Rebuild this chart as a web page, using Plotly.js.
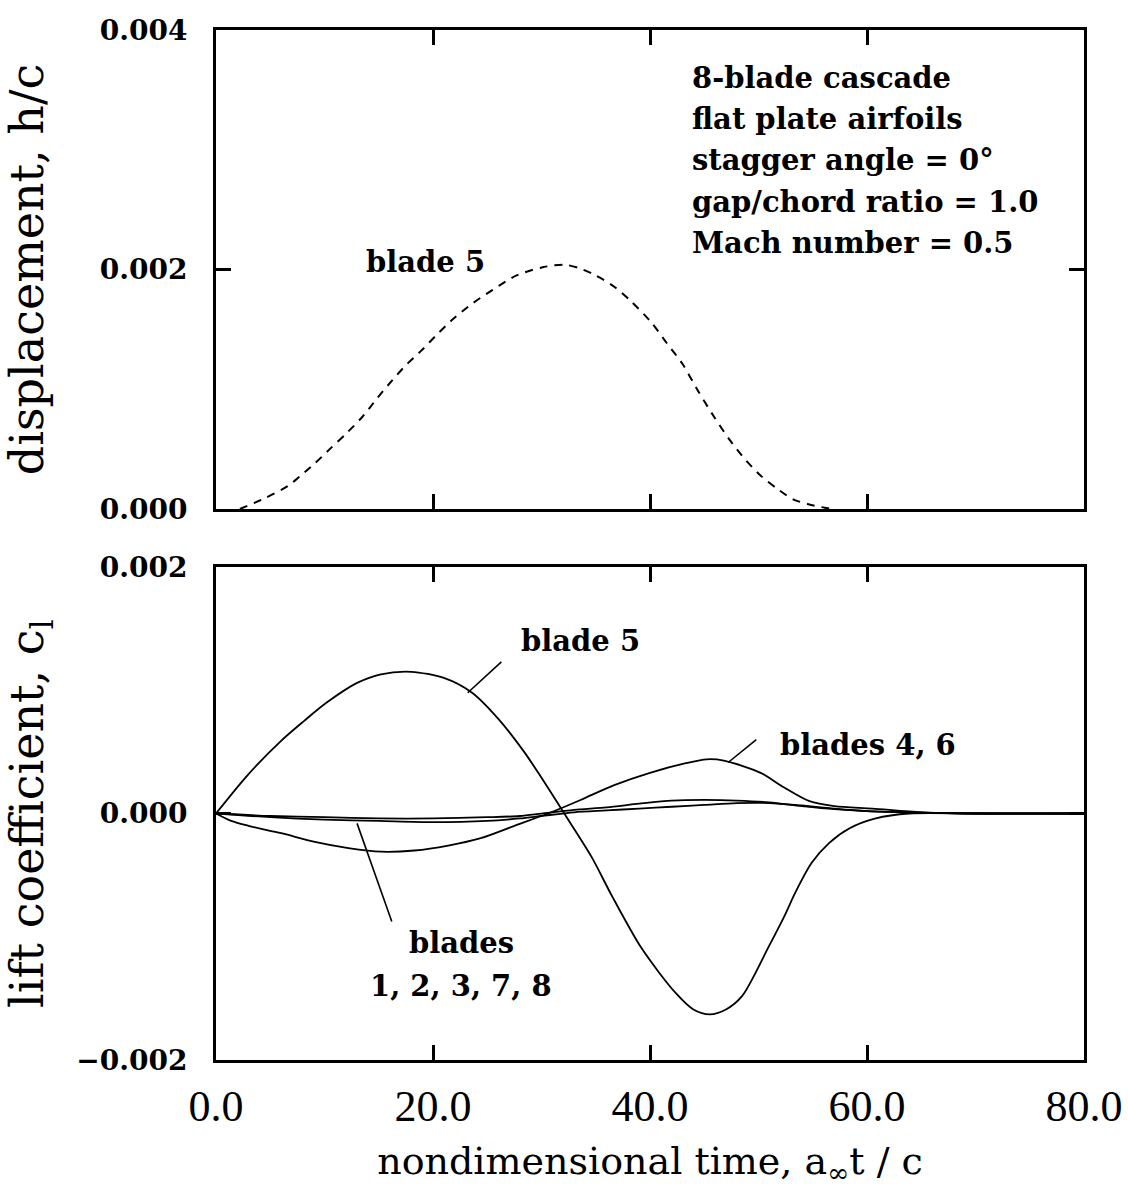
<!DOCTYPE html>
<html>
<head>
<meta charset="utf-8">
<script src="https://cdn.plot.ly/plotly-3.0.1.min.js"></script>
<style>html,body{margin:0;padding:0;background:#fff;}</style>
</head>
<body>
<div id="chart" style="width:1128px;height:1188px;"></div>
<script>
// ---- Top panel: displacement of blade 5 (h/c) ----
const dispTime   = [2.2, 4.4, 6.6, 7.7, 9.1, 10.6, 12.0, 13.5, 14.9, 16.2, 17.5, 18.9, 20.4, 21.9, 23.7, 25.5, 27.7, 30.2, 32.1, 33.5, 35.0, 36.8, 38.3, 40.1, 41.5, 43.0, 44.4, 45.9, 47.4, 48.8, 50.3, 51.7, 53.2, 54.6, 56.1, 57.0];
const dispBlade5 = [0, 0.000085, 0.00019, 0.00027, 0.00038, 0.00051, 0.00063, 0.00077, 0.00093, 0.00107, 0.00120, 0.00132, 0.00146, 0.00159, 0.00172, 0.00183, 0.00195, 0.00202, 0.00204, 0.00201, 0.00195, 0.00185, 0.00173, 0.00156, 0.00139, 0.00121, 0.00099, 0.00077, 0.00057, 0.00041, 0.00027, 0.00017, 0.00008, 0.00004, 0.00001, 0];

// ---- Bottom panel: lift coefficient c_l ----
const clTimeB5  = [0, 2.9, 6.0, 8.1, 10.2, 13.0, 15.2, 18.0, 21.0, 23.6, 26.0, 28.4, 30.0, 32.1, 34.6, 36.5, 39.2, 42.3, 44.0, 45.5, 47.0, 48.5, 51.0, 52.4, 53.4, 54.9, 56.5, 58.4, 60.8, 63.9, 70, 80];
const clBlade5  = [0, 0.00031, 0.00059, 0.00075, 0.00090, 0.00106, 0.00113, 0.00115, 0.00110, 0.00098, 0.00077, 0.00050, 0.00029, 0.0, -0.00035, -0.00067, -0.00109, -0.00145, -0.00159, -0.00163, -0.00159, -0.00148, -0.00107, -0.00083, -0.00064, -0.00040, -0.00024, -0.00012, -0.00004, 0, 0, 0];

const clTimeB46 = [0, 1.4, 3, 6, 9.1, 12.2, 15.2, 18.3, 21.4, 24.4, 27.5, 30.6, 33.6, 36.7, 40, 43.4, 45.2, 46.8, 50.2, 52.2, 54.7, 57, 60.5, 65, 70, 80];
const clBlades46 = [0, -0.00006, -0.00010, -0.00016, -0.00023, -0.00028, -0.00031, -0.00030, -0.00026, -0.00020, -0.00010, 0, 0.00011, 0.00023, 0.00033, 0.00041, 0.00044, 0.00043, 0.00033, 0.00022, 0.00010, 0.00006, 0.00004, 0.00001, 0, 0];

const clTimeOther = [0, 5, 10, 15, 20, 25, 28, 30, 33, 36, 39, 42, 45, 48, 51, 54, 57, 60, 64, 70, 80];
const clOtherUpper = [0, -0.00002, -0.00003, -0.00004, -0.00004, -0.00003, -0.00002, 0, 0.00003, 0.00005, 0.00008, 0.000105, 0.00011, 0.000105, 0.00009, 0.00006, 0.000035, 0.00002, 0.00001, 0, 0];
const clOtherLower = [0, -0.00003, -0.00005, -0.00006, -0.00007, -0.00006, -0.00004, -0.00002, 0.00001, 0.000025, 0.00004, 0.000055, 0.00007, 0.000085, 0.000085, 0.000065, 0.00004, 0.00002, 0.00001, 0, 0];

const xTickVals = [0, 20, 40, 60, 80];
const xTickText = ['0.0', '20.0', '40.0', '60.0', '80.0'];
const dispTickVals = [0, 0.002, 0.004];
const dispTickText = ['0.000', '0.002', '0.004'];
const clTickVals = [-0.002, 0, 0.002];
const clTickText = ['\u22120.002', '0.000', '0.002'];

const infoLines = ['8-blade cascade', 'flat plate airfoils', 'stagger angle = 0\u00b0', 'gap/chord ratio = 1.0', 'Mach number = 0.5'];

const serif = 'DejaVu Serif, serif';
const line = {color: '#000', width: 1.8, shape: 'spline', smoothing: 0.8};

const traces = [
  {x: dispTime, y: dispBlade5, xaxis: 'x', yaxis: 'y', mode: 'lines', name: 'blade 5 displacement',
   line: {color: '#000', width: 2, dash: '8px,7px', shape: 'spline', smoothing: 0.8}},
  {x: clTimeOther, y: clOtherLower, xaxis: 'x2', yaxis: 'y2', mode: 'lines', name: 'blades 1, 2, 3, 7, 8 (lower)', line: line},
  {x: clTimeOther, y: clOtherUpper, xaxis: 'x2', yaxis: 'y2', mode: 'lines', name: 'blades 1, 2, 3, 7, 8 (upper)', line: line},
  {x: clTimeB46, y: clBlades46, xaxis: 'x2', yaxis: 'y2', mode: 'lines', name: 'blades 4, 6', line: line},
  {x: clTimeB5, y: clBlade5, xaxis: 'x2', yaxis: 'y2', mode: 'lines', name: 'blade 5', line: line}
];

const axisCommon = {
  showline: true, linecolor: '#000', linewidth: 3, mirror: 'ticks',
  ticks: 'inside', ticklen: 15, tickwidth: 3, tickcolor: '#000',
  showgrid: false, zeroline: false, fixedrange: true
};

const annFont = {family: serif, size: 29, color: '#000', weight: 'bold'};
const annotations = [];
const infoY = [0.003599, 0.003257, 0.002914, 0.002564, 0.002221];
infoLines.forEach((t, i) => annotations.push({
  text: t, xref: 'x', yref: 'y', x: 43.7, y: infoY[i], xanchor: 'left', yanchor: 'middle',
  showarrow: false, font: annFont
}));
annotations.push({text: 'blade 5', xref: 'x', yref: 'y', x: 19.3, y: 0.00206, xanchor: 'center', yanchor: 'middle', showarrow: false, font: annFont});
annotations.push({text: 'blade 5', xref: 'x2', yref: 'y2', x: 33.6, y: 0.00140, xanchor: 'center', yanchor: 'middle', showarrow: false, font: annFont});
annotations.push({text: 'blades 4, 6', xref: 'x2', yref: 'y2', x: 60.1, y: 0.00056, xanchor: 'center', yanchor: 'middle', showarrow: false, font: annFont});
annotations.push({text: 'blades', xref: 'x2', yref: 'y2', x: 22.6, y: -0.00105, xanchor: 'center', yanchor: 'middle', showarrow: false, font: annFont});
annotations.push({text: '1, 2, 3, 7, 8', xref: 'x2', yref: 'y2', x: 22.6, y: -0.00140, xanchor: 'center', yanchor: 'middle', showarrow: false, font: annFont});

// leader lines from labels to curves
const leaderX0 = [23.2, 47.2, 13.0];
const leaderY0 = [0.00098, 0.000414, -0.00008];
const leaderX1 = [26.3, 49.8, 16.2];
const leaderY1 = [0.00123, 0.00060, -0.000876];
const shapes = leaderX0.map((x0, i) => ({
  type: 'line', xref: 'x2', yref: 'y2', x0: x0, y0: leaderY0[i], x1: leaderX1[i], y1: leaderY1[i],
  line: {color: '#000', width: 1.6}
}));

const layout = {
  width: 1128, height: 1188,
  margin: {l: 216, r: 44, t: 30, b: 128},
  paper_bgcolor: '#fff', plot_bgcolor: '#fff',
  showlegend: false,
  font: {family: serif, color: '#000'},
  xaxis: Object.assign({}, axisCommon, {
    domain: [0, 1], anchor: 'y', range: [0, 80], tickvals: xTickVals, showticklabels: false
  }),
  yaxis: Object.assign({}, axisCommon, {
    domain: [0.535, 1], anchor: 'x', range: [0, 0.004], tickvals: dispTickVals, ticktext: dispTickText,
    tickfont: {family: serif, size: 28, color: '#000', weight: 'bold'}, ticklabelstandoff: 20,
    title: {text: 'displacement, h/c', font: {family: serif, size: 46, color: '#000'}, standoff: 42}
  }),
  xaxis2: Object.assign({}, axisCommon, {
    domain: [0, 1], anchor: 'y2', range: [0, 80], tickvals: xTickVals, ticktext: xTickText,
    tickfont: {family: 'Liberation Serif, serif', size: 44, color: '#000'}, ticklabelstandoff: 5,
    title: {text: 'nondimensional time, a<sub>\u221e</sub>t / c', font: {family: serif, size: 38, color: '#000'}, standoff: 30}
  }),
  yaxis2: Object.assign({}, axisCommon, {
    domain: [0, 0.4786], anchor: 'x2', range: [-0.002, 0.002], tickvals: clTickVals, ticktext: clTickText,
    tickfont: {family: serif, size: 28, color: '#000', weight: 'bold'}, ticklabelstandoff: 20,
    title: {text: 'lift coefficient, c<sub>l</sub>', font: {family: serif, size: 46, color: '#000'}, standoff: 42}
  }),
  annotations: annotations,
  shapes: shapes
};

Plotly.newPlot('chart', traces, layout, {staticPlot: true, displayModeBar: false});
</script>
</body>
</html>
